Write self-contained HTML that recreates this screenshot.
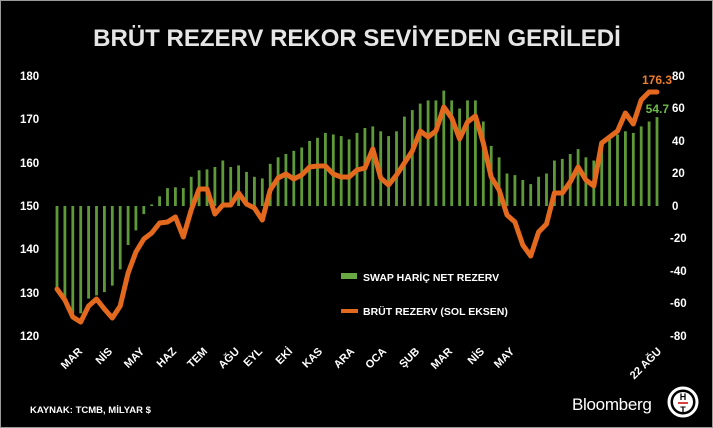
<!DOCTYPE html>
<html><head><meta charset="utf-8"><style>
html,body{margin:0;padding:0;background:#000;}
svg{display:block;font-family:"Liberation Sans",Arial,sans-serif;font-weight:bold;}
</style></head><body>
<svg id="s" width="713" height="428" viewBox="0 0 713 428">
<rect x="0.5" y="0.5" width="712" height="427" fill="#000" stroke="#9a9a9a"/>
<text x="357" y="46" text-anchor="middle" fill="#e6e6e6" font-size="24">BRÜT REZERV REKOR SEVİYEDEN GERİLEDİ</text>
<g fill="#fff" font-size="11.5">
<text x="20" y="80">180</text><text x="20" y="123">170</text><text x="20" y="167">160</text>
<text x="20" y="210">150</text><text x="20" y="253">140</text><text x="20" y="297">130</text><text x="20" y="340">120</text>
<text x="672" y="80">80</text><text x="672" y="112">60</text>
<text x="672" y="145">40</text><text x="672" y="177">20</text>
<text x="672" y="210">0</text><text x="670" y="242">-20</text>
<text x="670" y="275">-40</text><text x="670" y="307">-60</text>
<text x="670" y="340">-80</text>
</g>
<g id="bars" fill="#5f9a3a"></g>
<polyline id="ln" fill="none" stroke="#e2691d" stroke-width="5" stroke-linejoin="round" stroke-linecap="round"/>
<text x="672" y="84" text-anchor="end" fill="#f07d2e" font-size="12">176.3</text>
<text x="669" y="113" text-anchor="end" fill="#6dbb48" font-size="12">54.7</text>
<g fill="#fff" font-size="11" id="months"></g>
<rect x="341" y="273" width="16" height="6" fill="#6aa843"/>
<text x="363" y="281" fill="#fff" font-size="10.5">SWAP HARİÇ NET REZERV</text>
<line x1="341" y1="311" x2="358" y2="311" stroke="#e2691d" stroke-width="4"/>
<text x="363" y="315" fill="#fff" font-size="10.5">BRÜT REZERV (SOL EKSEN)</text>
<text x="30" y="413" fill="#fff" font-size="9.5">KAYNAK: TCMB, MİLYAR $</text>
<text x="572" y="410" fill="#fff" font-size="17" font-weight="normal" style="letter-spacing:-0.3px">Bloomberg</text>
<circle cx="683" cy="402" r="14" fill="none" stroke="#fff" stroke-width="3"/>
<circle cx="683" cy="402" r="10" fill="#fff"/>
<text x="683" y="400" text-anchor="middle" font-size="9" fill="#000">H</text>
<text x="683" y="413" text-anchor="middle" font-size="9" fill="#000">T</text>
<line x1="678" y1="403" x2="688" y2="403" stroke="#c00" stroke-width="1.5"/>
</svg>
<script>
var b=[-52,-58,-66,-66,-57,-55,-53,-49,-39,-24,-15,-5,1,6,11,11.5,11,18,22,22.5,24,28,24,25,21,18,17,26,30,32,34,36,40,42,45,44,43,41,45,
48,49,46,43,46,55,59,63,65,65,71,65,60,65,65,52,37,30,20,19,16,13.5,18,20,28,29,32,35,30,28,39,41,44,46,45,49,52,54.7];
var ly=[289,300,317,322,306,299,309,318,306,273,252,239,233,223,222,217,237,210,189,189,214,205,205,193,204,208,220,190,178,174,179,175,167,166,166,174,177,177,170,
168,149,178,185,175,163,151,131,137,131,107,118,139,122,116,143,177,190,215,222,245,256,232,224,193,193,182,167,180,186,143,137,131,113,124,100,92,92];
var n=b.length,x0=57,x1=657,dx=(x1-x0)/(n-1),g=document.getElementById('bars'),h='',p=[];
for(var i=0;i<n;i++){var x=x0+i*dx,y=206-b[i]*1.625,t=Math.min(y,206),hh=Math.abs(y-206);
h+='<rect x="'+(x-1.4).toFixed(1)+'" y="'+t.toFixed(1)+'" width="2.8" height="'+Math.max(hh,1).toFixed(1)+'"/>';
p.push(x.toFixed(1)+','+ly[i]);}
g.innerHTML=h;document.getElementById('ln').setAttribute('points',p.join(' '));
var m=[['MAR',83],['NİS',113],['MAY',145],['HAZ',177],['TEM',208],['AĞU',240],['EYL',263],['EKİ',293],['KAS',323],['ARA',355],['OCA',387],['ŞUB',420],['MAR',453],['NİS',485],['MAY',515],['22 AĞU',662]];
var mh='';m.forEach(function(a){mh+='<text text-anchor="end" transform="translate('+a[1]+',352) rotate(-45)">'+a[0]+'</text>';});
document.getElementById('months').innerHTML=mh;
</script>
</body></html>
